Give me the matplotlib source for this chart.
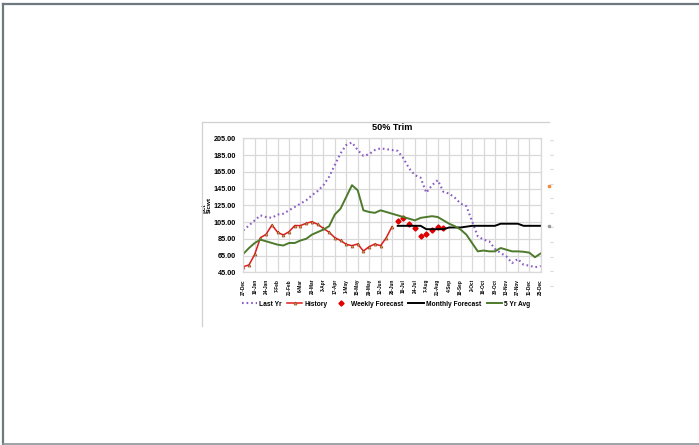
import matplotlib.pyplot as plt
from matplotlib.lines import Line2D

plt.rcParams['font.family'] = ['Liberation Sans', 'DejaVu Sans']

W, H = 699, 445

weeks = list(range(53))
tick_labels = ["27-Dec", "10-Jan", "24-Jan", "7-Feb", "21-Feb", "6-Mar", "20-Mar",
               "3-Apr", "17-Apr", "1-May", "15-May", "29-May", "12-Jun", "26-Jun",
               "10-Jul", "24-Jul", "7-Aug", "21-Aug", "4-Sep", "18-Sep", "2-Oct",
               "16-Oct", "30-Oct", "13-Nov", "27-Nov", "11-Dec", "25-Dec"]

last_yr = [95, 101, 107, 113, 111, 110, 114, 115, 119, 123, 127, 131, 137, 142,
           149, 159, 173, 187, 197, 200, 191, 184, 186, 191, 193, 192, 191, 190,
           181, 169, 161, 158, 140, 149, 155, 141, 139, 134, 127, 124, 106, 88,
           84, 82, 73, 68, 64, 56, 61, 54, 53, 51, 52.5]

history = [51.7, 53.8, 66.5, 86.3, 90.4, 101.5, 92.8, 89.5, 93.5, 100.8, 100.8,
           103.5, 105.4, 102.3, 97.5, 92.8, 86.3, 83, 78.4, 76.8, 78.8, 70.4,
           75.6, 78.8, 76.8, 86.3, 99.5]

weekly_weeks = [27, 28, 29, 30, 31, 32, 33, 34, 35]
weekly_fc = [106.3, 110.2, 102.3, 98.3, 88.4, 90.7, 95.5, 98.7, 98.2]

monthly_weeks = list(range(27, 53))
monthly_fc = [100.5, 100.5, 100.5, 100.5, 100.5, 96.5, 96.5, 96.5, 96.5, 98.5,
              98.5, 98.5, 99.5, 100.5, 100.5, 100.5, 100.5, 100.5, 103, 103,
              103, 103, 100.5, 100.5, 100.5, 100.5]

five_yr = [67, 74, 80, 84, 82, 80, 78, 77, 80, 80, 83, 85, 90, 93, 96, 100, 114,
           121, 135, 149, 143, 119, 117, 116, 119, 117, 115, 113, 111, 109, 107,
           110, 111, 112, 111, 107, 103, 100, 96, 90, 80, 70, 71, 70, 70, 74, 72,
           70, 70, 69.5, 68.5, 63, 67.5]

fig = plt.figure(figsize=(W / 100, H / 100), dpi=100)


def fx(px):
    return px / W


def fy(py):
    return 1 - py / H


# page frame
frame = '#6d7880'
fig.add_artist(Line2D([fx(3), fx(3)], [fy(3.5), fy(444)], color=frame, lw=1.6))
fig.add_artist(Line2D([fx(3), fx(699)], [fy(3.5), fy(3.5)], color=frame, lw=1.6))
fig.add_artist(Line2D([fx(3), fx(699)], [fy(443.8), fy(443.8)], color='#8a949b', lw=1.2))

# chart box edges
box = '#d0d0d0'
fig.add_artist(Line2D([fx(202), fx(202)], [fy(122), fy(326)], color=box, lw=0.9))
fig.add_artist(Line2D([fx(202), fx(549)], [fy(122), fy(122)], color=box, lw=0.9))

left, right = 243.3, 540.7
top, bottom = 138.3, 272.3
ax = fig.add_axes([fx(left), fy(bottom), (right - left) / W, (bottom - top) / H])

ax.plot(weeks, last_yr, color='#8a5cc4', lw=1.5, linestyle=(0, (0.8, 1.4)),
        label='Last Yr')
ax.plot(weeks[:len(history)], history, color='#e01b1b', lw=1.1, marker='^',
        markersize=2.2, markerfacecolor='#d99a5a', markeredgecolor='#8c3a10',
        markeredgewidth=0.4, label='History')
ax.plot(weekly_weeks, weekly_fc, linestyle='none', marker='D', markersize=2.6,
        color='#e00000', label='Weekly Forecast')
ax.plot(monthly_weeks, monthly_fc, color='black', lw=1.4, label='Monthly Forecast')
ax.plot(weeks, five_yr, color='#4e7a2c', lw=1.4, label='5 Yr Avg')

ax.set_xlim(0, 52)
ax.set_ylim(45, 205)
ax.set_yticks(range(45, 206, 20))
ax.set_yticklabels([f"{v:.2f}" for v in range(45, 206, 20)],
                   fontsize=5.2, fontweight='bold')
ax.set_xticks(range(0, 53, 2))
ax.set_xticklabels(tick_labels, rotation=90, fontsize=3.4, fontweight='bold')
ax.tick_params(axis='y', length=0, pad=5.5)
ax.tick_params(axis='x', length=0, pad=4.8)
ax.grid(True, color='#d9d9d9', lw=0.9)
ax.set_axisbelow(True)
for s in ax.spines.values():
    s.set_color('#d9d9d9')
    s.set_linewidth(0.9)

ax.set_title('50% Trim', fontsize=6.6, fontweight='bold', pad=6)
ax.set_ylabel('pct\n$/cwt', fontsize=4.6, fontweight='bold', labelpad=1.5,
              linespacing=1.0, ma='left')

# faint secondary axis ticks on the right
ax2 = fig.add_axes([fx(549), fy(285.7), 0.001, (285.7 - 140) / H])
ax2.set_xticks([])
ax2.set_ylim(0, 10)
ax2.set_yticks(range(11))
ax2.set_yticklabels([])
ax2.tick_params(axis='y', length=2, color='#d8d8d8', width=0.8, left=False, right=True)
for s in ax2.spines.values():
    s.set_visible(False)
ax2.plot([0.5], [6.85], marker='s', markersize=1.6, color='#f08a3c', clip_on=False)
ax2.plot([0.5], [4.1], marker='s', markersize=1.4, color='#9a9a9a', clip_on=False)

leg = ax.legend(loc='center', ncol=5, frameon=False,
                prop={'size': 4.8, 'weight': 'bold'}, handlelength=2.3,
                handletextpad=0.35, columnspacing=0.8, borderaxespad=0,
                borderpad=0)
leg.set_bbox_to_anchor((fx(386), fy(304.3)), transform=fig.transFigure)

fig.savefig('out.png', dpi=100)
